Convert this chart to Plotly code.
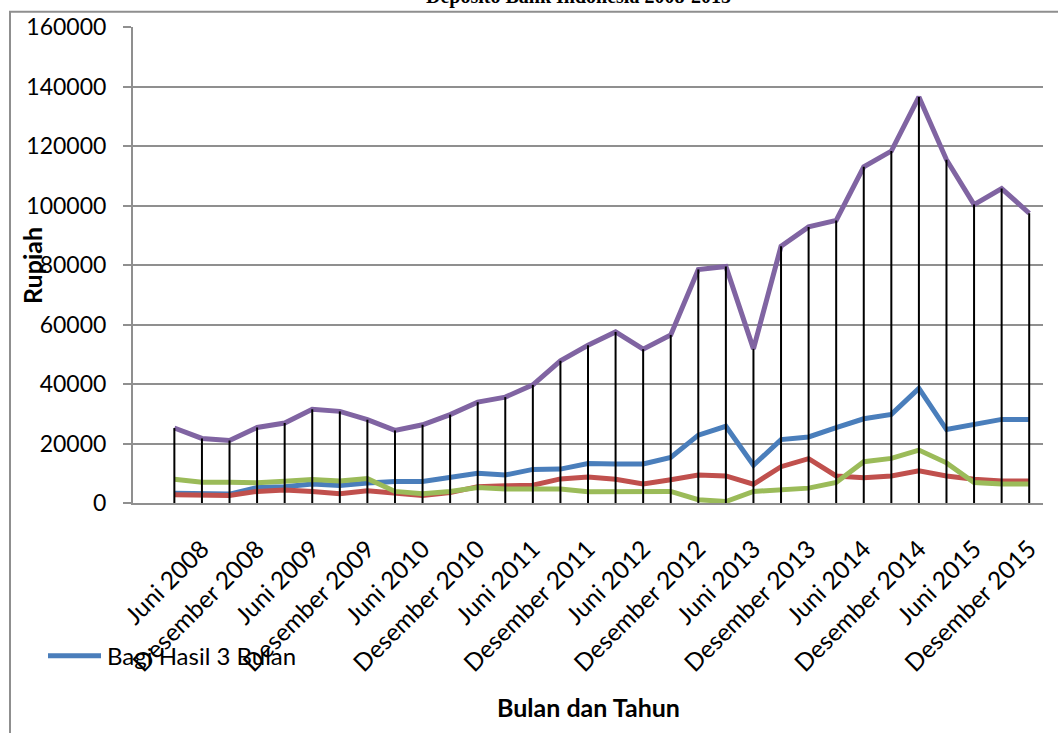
import plotly.graph_objects as go

# Quarterly periods, March 2008 through December 2015
categories = [
    "Maret 2008", "Juni 2008", "September 2008", "Desember 2008",
    "Maret 2009", "Juni 2009", "September 2009", "Desember 2009",
    "Maret 2010", "Juni 2010", "September 2010", "Desember 2010",
    "Maret 2011", "Juni 2011", "September 2011", "Desember 2011",
    "Maret 2012", "Juni 2012", "September 2012", "Desember 2012",
    "Maret 2013", "Juni 2013", "September 2013", "Desember 2013",
    "Maret 2014", "Juni 2014", "September 2014", "Desember 2014",
    "Maret 2015", "Juni 2015", "September 2015", "Desember 2015",
]

# Series values in Rupiah
bagi_hasil_3 = [3300, 3300, 3000, 5200, 5500, 6400, 5900, 6700, 7200, 7200, 8700,
                10000, 9400, 11300, 11400, 13300, 13100, 13100, 15300, 22800, 25800,
                12700, 21300, 22200, 25300, 28300, 29800, 38500, 24700, 26400, 28100, 28100]
bagi_hasil_6 = [2800, 2800, 2500, 3900, 4400, 3900, 3100, 4100, 3100, 2500, 3500,
                5500, 5800, 6000, 8100, 8700, 8000, 6400, 7800, 9400, 9100,
                6300, 12200, 14900, 9100, 8500, 9100, 10800, 9100, 8000, 7400, 7400]
bagi_hasil_12 = [8000, 7000, 7000, 6800, 7300, 7900, 7400, 8200, 3900, 3100, 3900,
                 5200, 4700, 4700, 4700, 3800, 3800, 3600, 3900, 1100, 500,
                 3900, 4400, 5000, 6900, 13900, 15000, 17800, 13500, 6900, 6400, 6400]
bagi_hasil_1 = [25200, 21700, 21000, 25400, 26900, 31500, 30800, 28000, 24400, 26300, 29700,
                33900, 35600, 39700, 47800, 53000, 57500, 51700, 56500, 78500, 79500,
                51800, 86300, 92800, 95000, 113000, 118300, 136500, 115400, 100300, 105700, 97400]

tick_labels = [c for c in categories if c.startswith(("Juni", "Desember"))]
legend_label = "Bagi Hasil 3 Bulan"

W, H = 1058, 733
M_L, M_R, M_T, M_B = 133, 15, 23, 230
PW, PH = W - M_L - M_R, H - M_T - M_B


def fx(px):
    return (px - M_L) / PW


def fy(py):
    return (H - M_B - py) / PH


GRID = "#8f8f8f"
FONT = "Lato"

fig = go.Figure()

series = [
    (legend_label, bagi_hasil_3, "#4a7ebb"),
    ("Bagi Hasil 6 Bulan", bagi_hasil_6, "#c0504d"),
    ("Bagi Hasil 12 Bulan", bagi_hasil_12, "#9bbb59"),
    ("Bagi Hasil 1 Bulan", bagi_hasil_1, "#8064a2"),
]
for name, vals, color in series:
    fig.add_trace(go.Scatter(
        x=categories, y=vals, name=name, mode="lines",
        line=dict(color=color, width=5),
        showlegend=False,
    ))

# Drop lines from the highest series down to the axis
drop_x, drop_y = [], []
for c, v in zip(categories, bagi_hasil_1):
    drop_x += [c, c, None]
    drop_y += [v, 0, None]
fig.add_trace(go.Scatter(
    x=drop_x, y=drop_y, mode="lines", line=dict(color="black", width=2),
    showlegend=False, hoverinfo="skip",
))

fig.update_layout(
    width=W, height=H,
    margin=dict(l=M_L, r=M_R, t=M_T, b=M_B),
    paper_bgcolor="white", plot_bgcolor="white",
    font=dict(family=FONT, size=23, color="black"),
    showlegend=False,
    xaxis=dict(
        type="category", categoryorder="array", categoryarray=categories,
        range=[-1.5, len(categories) - 0.5],
        tickmode="array", tickvals=tick_labels, ticktext=tick_labels,
        tickangle=-45, ticks="", showgrid=False,
        showline=True, linecolor=GRID, linewidth=2,
        ticklabelstandoff=20,
        tickfont=dict(family=FONT, size=24.5),
    ),
    yaxis=dict(
        range=[0, 160000], dtick=20000, tickformat="d",
        showgrid=True, gridcolor=GRID, gridwidth=2,
        zeroline=False,
        showline=True, linecolor=GRID, linewidth=2,
        ticks="outside", ticklen=8, tickcolor=GRID, tickwidth=2,
        ticklabelstandoff=12,
        tickfont=dict(family=FONT, size=23),
    ),
)

# Chart frame
fig.add_shape(type="rect", xref="paper", yref="paper",
              x0=fx(10), x1=fx(W + 20), y0=fy(H + 20), y1=fy(7.5),
              line=dict(color=GRID, width=2), fillcolor="rgba(0,0,0,0)", layer="below")

# Legend key
fig.add_shape(type="line", xref="paper", yref="paper",
              x0=fx(48), x1=fx(101), y0=fy(657), y1=fy(657),
              line=dict(color="#4a7ebb", width=5))
fig.add_annotation(text=legend_label, xref="paper", yref="paper",
                   x=fx(105), y=fy(657), xanchor="left", yanchor="middle",
                   showarrow=False, font=dict(family=FONT, size=24))

# Axis titles
fig.add_annotation(text="<b>Rupiah</b>", xref="paper", yref="paper",
                   x=fx(32), y=fy(264), textangle=-90, xanchor="center", yanchor="middle",
                   showarrow=False, font=dict(family=FONT, size=25))
fig.add_annotation(text="<b>Bulan dan Tahun</b>", xref="paper", yref="paper",
                   x=fx(588), y=fy(709), xanchor="center", yanchor="middle",
                   showarrow=False, font=dict(family=FONT, size=25))

# Chart title
fig.add_annotation(text="<b>Deposito Bank Indonesia 2008-2015</b>", xref="paper", yref="paper",
                   x=fx(578), y=fy(6), xanchor="center", yanchor="bottom",
                   showarrow=False, font=dict(family="Liberation Serif", size=20))

fig.write_html("out.html")
